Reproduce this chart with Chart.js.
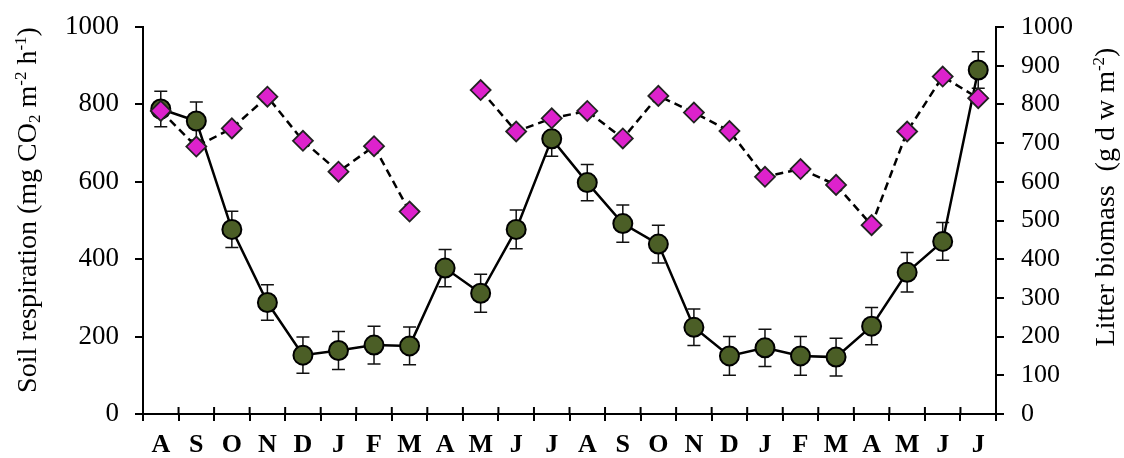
<!DOCTYPE html>
<html>
<head>
<meta charset="utf-8">
<script src="https://cdn.jsdelivr.net/npm/chart.js@4.4.0/dist/chart.umd.min.js"></script>
<style>
html,body{margin:0;padding:0;background:#fff;}
#wrap{width:1124px;height:458px;position:relative;}
</style>
</head>
<body>
<div id="wrap"><canvas id="c" width="1124" height="458"></canvas></div>
<script>
const months = ['A','S','O','N','D','J','F','M','A','M','J','J','A','S','O','N','D','J','F','M','A','M','J','J'];
const soilRespiration = [788,757,477,288,152,164,178,176,377,312,477,711,598,492,439,224,150,171,150,147,227,366,446,889];
const soilError = [46,49,47,46,47,49,49,49,48,49,50,45,47,48,49,47,50,48,50,49,48,51,49,47];
const litterBiomass = [783,691,738,820,706,626,692,523,null,837,730,764,783,712,822,779,731,613,633,592,488,730,872,816];
const leftTicks = [0,200,400,600,800,1000];
const rightTicks = [0,100,200,300,400,500,600,700,800,900,1000];

const SERIF = '"Liberation Serif","Times New Roman",serif';

function drawRich(ctx, parts, cx, cy, rot) {
  ctx.save();
  ctx.translate(cx, cy);
  ctx.rotate(rot);
  let total = 0;
  parts.forEach(p => { ctx.font = p.size + 'px ' + SERIF; p.w = ctx.measureText(p.t).width; total += p.w; });
  let x = -total / 2;
  ctx.fillStyle = '#000';
  ctx.textBaseline = 'middle';
  ctx.textAlign = 'left';
  parts.forEach(p => { ctx.font = p.size + 'px ' + SERIF; ctx.fillText(p.t, x, p.dy); x += p.w; });
  ctx.restore();
}

const extras = {
  id: 'extras',
  beforeDatasetsDraw(chart) {
    const ctx = chart.ctx, xs = chart.scales.x, ys = chart.scales.y;
    ctx.save();
    ctx.strokeStyle = '#111';
    ctx.lineWidth = 1.5;
    soilRespiration.forEach((v, i) => {
      const x = xs.getPixelForValue(i);
      const yt = ys.getPixelForValue(v + soilError[i]);
      const yb = ys.getPixelForValue(v - soilError[i]);
      ctx.beginPath();
      ctx.moveTo(x, yt); ctx.lineTo(x, yb);
      ctx.moveTo(x - 6.5, yt); ctx.lineTo(x + 6.5, yt);
      ctx.moveTo(x - 6.5, yb); ctx.lineTo(x + 6.5, yb);
      ctx.stroke();
    });
    ctx.restore();
  },
  afterDraw(chart) {
    const ctx = chart.ctx, xs = chart.scales.x;
    const y0 = chart.chartArea.bottom;
    ctx.save();
    ctx.strokeStyle = '#000';
    ctx.lineWidth = 2;
    ctx.beginPath();
    for (let i = 0; i <= months.length; i++) {
      const x = xs.left + (xs.right - xs.left) * i / months.length;
      ctx.moveTo(x, y0 - 7); ctx.lineTo(x, y0);
    }
    ctx.stroke();
    ctx.restore();
    const base = 28, small = 17;
    drawRich(ctx, [
      {t:'Soil respiration (mg CO', size:base, dy:0},
      {t:'2', size:small, dy:7},
      {t:' m', size:base, dy:0},
      {t:'-2', size:small, dy:-7},
      {t:' h', size:base, dy:0},
      {t:'-1', size:small, dy:-7},
      {t:')', size:base, dy:0}
    ], 29, 210, -Math.PI / 2);
    drawRich(ctx, [
      {t:'Litter biomass  (g d w m', size:base, dy:0},
      {t:'-2', size:small, dy:-7},
      {t:')', size:base, dy:0}
    ], 1107, 197, -Math.PI / 2);
  }
};

function fixV(w) {
  return function (s) { s.width = w; s.paddingTop = 0; s.paddingBottom = 0; };
}

new Chart(document.getElementById('c'), {
  type: 'line',
  data: {
    labels: months,
    datasets: [
      {
        label: 'Litter biomass',
        data: litterBiomass,
        yAxisID: 'y2',
        borderColor: '#000',
        borderWidth: 2.5,
        borderDash: [8, 5],
        spanGaps: false,
        pointStyle: 'rectRot',
        pointRadius: 10,
        pointBackgroundColor: '#dd22cc',
        pointBorderColor: '#222',
        pointBorderWidth: 1.8,
        tension: 0
      },
      {
        label: 'Soil respiration',
        data: soilRespiration,
        yAxisID: 'y',
        borderColor: '#000',
        borderWidth: 2.5,
        pointStyle: 'circle',
        pointRadius: 9.5,
        pointBackgroundColor: '#4b5e26',
        pointBorderColor: '#000',
        pointBorderWidth: 2,
        tension: 0
      }
    ]
  },
  options: {
    responsive: false,
    animation: false,
    events: [],
    layout: { padding: { top: 27, left: 0, right: 0, bottom: 0 } },
    plugins: { legend: { display: false }, tooltip: { enabled: false } },
    scales: {
      x: {
        type: 'category',
        offset: true,
        grid: { display: true, offset: true, drawOnChartArea: false, tickLength: 7, color: '#000', lineWidth: 2 },
        border: { display: true, color: '#000', width: 2 },
        ticks: { color: '#000', font: { family: SERIF, size: 26, weight: 'bold' }, padding: 9, maxRotation: 0, autoSkip: false },
        afterFit(s) { s.height = 44; s.paddingLeft = 0; s.paddingRight = 0; }
      },
      y: {
        position: 'left',
        min: 0, max: 1000,
        afterBuildTicks(s) { s.ticks = leftTicks.map(v => ({ value: v })); },
        grid: { display: true, drawOnChartArea: false, tickLength: 8, color: '#000', lineWidth: 2 },
        border: { display: true, color: '#000', width: 2 },
        ticks: { color: '#000', font: { family: SERIF, size: 27 }, padding: 16, callback: v => String(v) },
        afterFit: fixV(143)
      },
      y2: {
        position: 'right',
        min: 0, max: 1000,
        afterBuildTicks(s) { s.ticks = rightTicks.map(v => ({ value: v })); },
        grid: { display: true, drawOnChartArea: false, tickLength: 8, color: '#000', lineWidth: 2 },
        border: { display: true, color: '#000', width: 2 },
        ticks: { color: '#000', font: { family: SERIF, size: 26 }, padding: 17, callback: v => String(v) },
        afterFit: fixV(128)
      }
    }
  },
  plugins: [extras]
});
</script>
</body>
</html>
